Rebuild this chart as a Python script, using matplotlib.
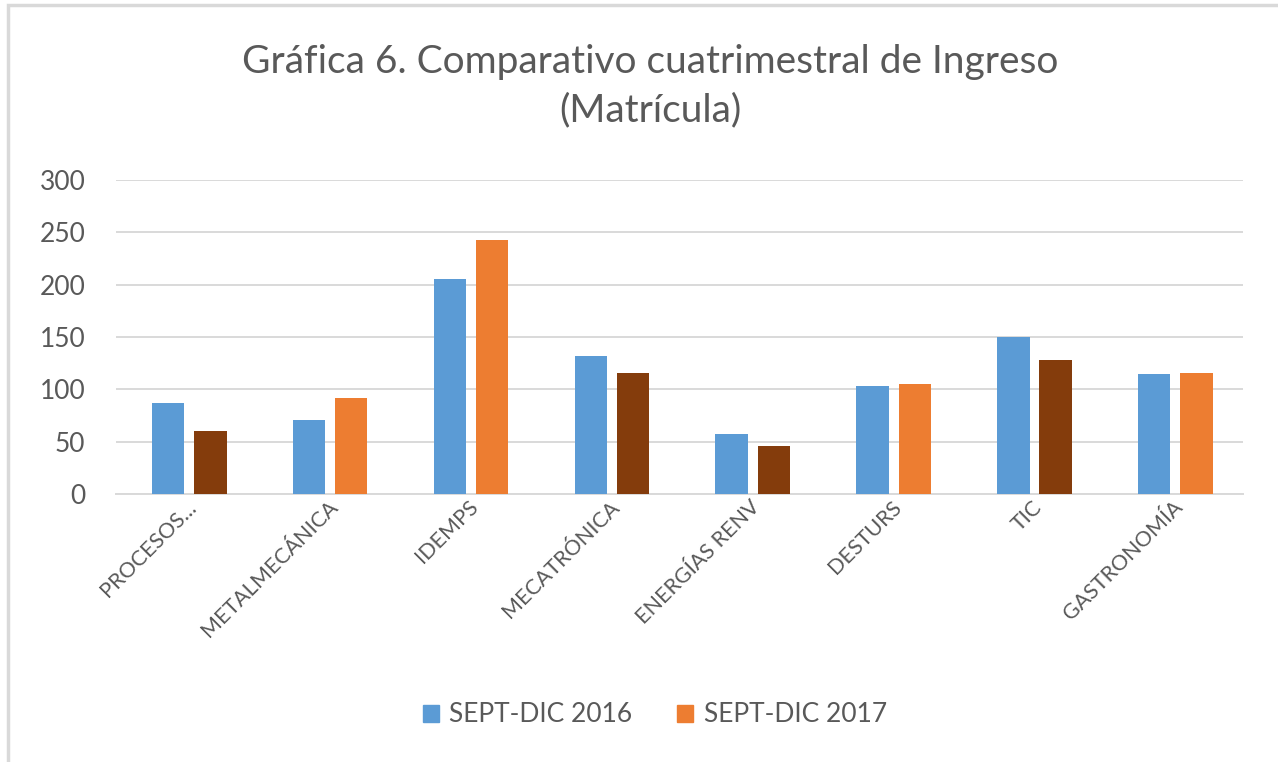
import numpy as np
import matplotlib
matplotlib.use('Agg')
import matplotlib.pyplot as plt
from matplotlib.patches import Rectangle, Patch

# datos
carreras = ['PROCESOS...', 'METALMECÁNICA', 'IDEMPS', 'MECATRÓNICA',
            'ENERGÍAS RENV', 'DESTURS', 'TIC', 'GASTRONOMÍA']
ingreso_2016 = [87, 71, 205, 132, 57, 103, 150, 115]
ingreso_2017 = [60, 92, 243, 116, 46, 105, 128, 116]
series = ['SEPT-DIC 2016', 'SEPT-DIC 2017']
y_ticks = [0, 50, 100, 150, 200, 250, 300]

azul = '#5B9BD5'
naranja = '#ED7D31'
cafe = '#843C0C'
gris = '#595959'
linea = '#D9D9D9'

plt.rcParams['font.family'] = ['Lato', 'DejaVu Sans']

fig = plt.figure(figsize=(12.78, 7.62), dpi=100)
fig.patches.append(Rectangle((8/1278, -0.1), 1.2, 1 - 5/762 + 0.1, transform=fig.transFigure,
                             fill=False, edgecolor=linea, linewidth=2.5))

ax = fig.add_axes([116/1278, 1 - 494/762, 1127/1278, 314/762])

x = np.arange(len(carreras))
w = 0.23
sep = 0.15
# cuando baja el ingreso la barra 2017 va en café
colores_2017 = [cafe if b < a else naranja for a, b in zip(ingreso_2016, ingreso_2017)]
ax.bar(x - sep + 0.02, ingreso_2016, w, color=azul, zorder=3)
ax.bar(x + sep + 0.02, ingreso_2017, w, color=colores_2017, zorder=3)

ax.set_xlim(-0.5, len(carreras) - 0.5)
ax.set_ylim(0, 300)
ax.set_yticks(y_ticks)
ax.set_yticklabels([str(v) for v in y_ticks], fontsize=19, color=gris)
ax.yaxis.grid(True, color=linea, linewidth=1.4, zorder=0)
ax.tick_params(axis='y', length=0, pad=22)
ax.tick_params(axis='x', length=0, pad=2)
ax.set_xticks(x)
ax.set_xticklabels(carreras, rotation=45, ha='right', rotation_mode='anchor',
                   fontsize=15.5, color=gris)
for s in ['top', 'right', 'left']:
    ax.spines[s].set_visible(False)
ax.spines['bottom'].set_color(linea)
ax.spines['bottom'].set_linewidth(1.4)

fig.text(650/1278, 1 - 62/762, 'Gráfica 6. Comparativo cuatrimestral de Ingreso',
         ha='center', va='center', fontsize=28, color=gris)
fig.text(650/1278, 1 - 110/762, '(Matrícula)',
         ha='center', va='center', fontsize=28, color=gris)

handles = [Patch(color=azul), Patch(color=naranja)]
fig.legend(handles, series, loc='center', bbox_to_anchor=(655/1278, 1 - 715/762),
           ncol=2, frameon=False, fontsize=19, labelcolor=gris,
           handlelength=0.6, handleheight=0.6, handletextpad=0.4, columnspacing=1.7)

fig.savefig('out.png', dpi=100)
